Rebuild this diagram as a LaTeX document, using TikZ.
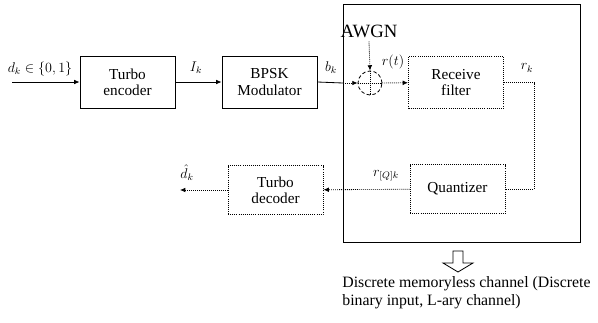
\documentclass[tikz,border=0pt]{standalone}
\usepackage{amsmath,amssymb}
\usepackage{fontspec}
\setmainfont{Liberation Serif}
\usepackage{tikz}
\usetikzlibrary{arrows.meta,positioning}

\begin{document}
\begin{tikzpicture}[x=0.03cm,y=-0.03cm, every node/.style={font=\fontsize{13}{14}\selectfont,align=center},
  blk/.style={draw,line width=0.8pt,minimum width=2.85cm,minimum height=1.56cm,inner sep=1pt},
  dblk/.style={blk,densely dotted,minimum height=1.47cm},
  arr/.style={-{Latex[length=1.6mm,width=1.4mm]},line width=0.7pt},
  darr/.style={arr,densely dotted},
  lbl/.style={font=\fontsize{12}{14}\selectfont,inner sep=1pt}]
  \useasboundingbox (0,0) rectangle (598,322);
  % channel region
  \draw[line width=0.8pt] (343,4) rectangle (580,242);
  \node[blk] (enc) at (127.5,82) {Turbo\\encoder};
  \node[blk] (mod) at (269.5,82) {BPSK\\Modulator};
  \node[blk,densely dotted] (rf) at (456,82.5) {Receive\\filter};
  \node[dblk] (quant) at (457.5,189) {Quantizer};
  \node[dblk] (dec) at (275.5,190) {Turbo\\decoder};
  \node[circle,draw,densely dashed,line width=0.7pt,minimum size=0.72cm] (sum) at (370,83) {};
  \node[font=\fontsize{16}{18}\selectfont] (awgn) at (369,31) {AWGN};
  \coordinate (in) at (12,82);
  \coordinate (edge) at (343,83);
  \coordinate (out) at (180,190);
  \draw[densely dotted,line width=0.7pt] (sum.north) -- (sum.south) (sum.west) -- (sum.east);
  \draw[arr] (in) -- (enc);
  \draw[arr] (enc) -- (mod);
  \draw[line width=0.7pt] (mod.east) -- (edge);
  \draw[darr] (edge) -- (sum.west);
  \draw[darr] (awgn.south) -- (sum.north);
  \draw[darr] (sum) -- (rf);
  \draw[densely dotted,line width=0.7pt] (rf.east) -- ++(30,0) |- (quant.east);
  \draw[darr] (quant) -- (dec);
  \draw[darr] (dec) -- (out);
  % labels
  \node[lbl] (ldk) at (40,69) {$d_k\in\{0,1\}$};
  \node[lbl] (lik) at (196,68) {$I_k$};
  \node[lbl] (lbk) at (331,68) {$b_k$};
  \node[lbl] (lrt) at (393,62) {$r(t)$};
  \node[lbl] (lrk) at (527,68) {$r_k$};
  \node[lbl] (lrq) at (386,176) {$r_{[Q]k}$};
  \node[lbl] (lhd) at (187,173) {$\hat{d}_k$};
  % block arrow to the caption
  \draw[line width=0.7pt] (453,251) -- (453,263) -- (443,263) -- (458,272) -- (473,263) -- (463,263) -- (463,251) -- cycle;
  \node[anchor=north west,align=left,font=\fontsize{13.5}{15.5}\selectfont,inner sep=1pt] (cap) at (341,275)
    {Discrete memoryless channel (Discrete\\binary input, L-ary channel)};
\end{tikzpicture}
\end{document}
